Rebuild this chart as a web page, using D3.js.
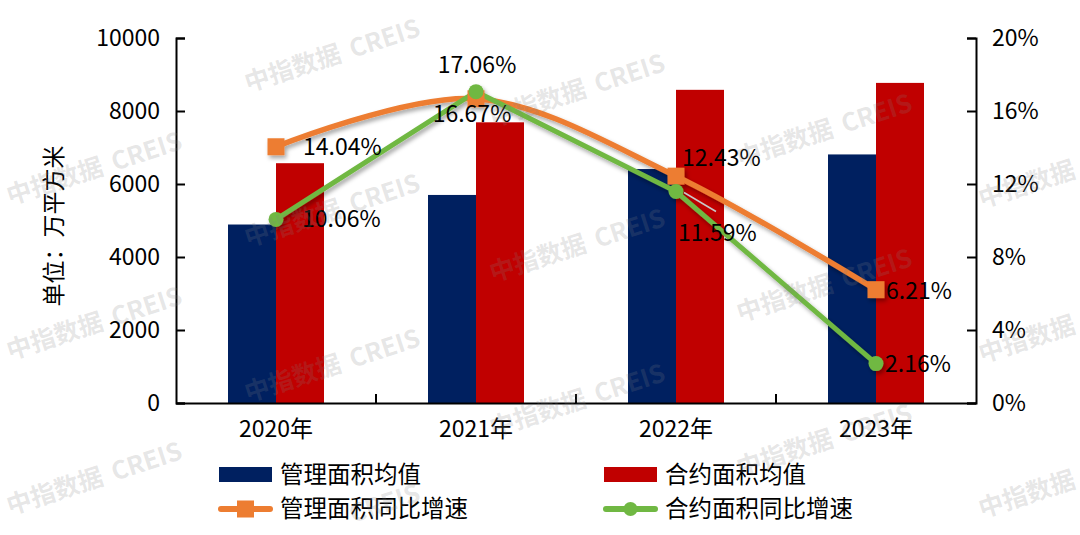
<!DOCTYPE html>
<html><head><meta charset="utf-8">
<script src="https://cdn.jsdelivr.net/npm/d3@7"></script>
<style>
html,body{margin:0;padding:0;background:#fff;}
text{font-family:"Noto Sans CJK SC","Noto Sans",sans-serif;}
</style></head>
<body><svg id="chart" width="1080" height="535"></svg>
<script>
const categories = ["2020年","2021年","2022年","2023年"];
const barSeries = ["管理面积均值","合约面积均值"];
const manageAvg = [4890, 5700, 6410, 6810];
const contractAvg = [6570, 7690, 8580, 8770];
const lineSeries = ["管理面积同比增速","合约面积同比增速"];
const manageGrowth = [14.04, 16.67, 12.43, 6.21];
const contractGrowth = [10.06, 17.06, 11.59, 2.16];
const leftTicks = [0, 2000, 4000, 6000, 8000, 10000];
const rightTicks = [0, 4, 8, 12, 16, 20];
const yTitle = "单位：万平方米";
const watermarkParts = ["中指数据", "CREIS"];

const colors = {manage:"#002060", contract:"#C00000", mLine:"#ED7D31", cLine:"#70B843"};
const svg = d3.select("#chart");
const W = 1080, H = 535;
const L = 176, R = 976, T = 38, B = 403;

svg.append("rect").attr("width",W).attr("height",H).attr("fill","#fff");
const defs = svg.append("defs");
const f = defs.append("filter").attr("id","sh").attr("x","-20%").attr("y","-20%").attr("width","140%").attr("height","160%");
f.append("feDropShadow").attr("dx",2).attr("dy",3).attr("stdDeviation",2).attr("flood-color","#000").attr("flood-opacity",0.35);

const x0 = d3.scaleBand().domain(categories).range([L,R]).paddingInner(0).paddingOuter(0);
const x1 = d3.scaleBand().domain(barSeries).range([x0.bandwidth()*0.26, x0.bandwidth()*0.74]).padding(0);
const yL = d3.scaleLinear().domain([0,10000]).range([B,T]);
const yR = d3.scaleLinear().domain([0,20]).range([B,T]);

// bars
const barData = [manageAvg, contractAvg];
const barColors = [colors.manage, colors.contract];
barSeries.forEach((s,si)=>{
  svg.append("g").selectAll("rect").data(categories).join("rect")
    .attr("x", d=>x0(d)+x1(s))
    .attr("y", (d,i)=>yL(barData[si][i]))
    .attr("width", x1.bandwidth())
    .attr("height", (d,i)=>B-yL(barData[si][i]))
    .attr("fill", barColors[si]);
});

// axes
const axL = svg.append("g").attr("transform",`translate(${L},0)`)
  .call(d3.axisLeft(yL).tickValues(leftTicks).tickSize(-9).tickPadding(16).tickFormat(d3.format("d")));
const axR = svg.append("g").attr("transform",`translate(${R},0)`)
  .call(d3.axisRight(yR).tickValues(rightTicks).tickSize(-9).tickPadding(16).tickFormat(d=>d+"%"));
const axB = svg.append("g").attr("transform",`translate(0,${B})`)
  .call(d3.axisBottom(x0).tickSize(0).tickPadding(22));
[axL,axR,axB].forEach(a=>{
  a.selectAll("path.domain").attr("stroke","#000").attr("stroke-width",2);
  a.selectAll(".tick line").attr("stroke","#000").attr("stroke-width",2);
  a.selectAll("text").attr("font-size",23).attr("fill","#000")
   .attr("font-family",'"Noto Sans CJK SC","Noto Sans",sans-serif');
});
axB.selectAll("text").attr("dy","0.71em").attr("y",18);
// category boundary ticks
const bounds = categories.slice(1).map(c=>x0(c));
svg.append("g").selectAll("line").data(bounds).join("line")
  .attr("x1",d=>d).attr("x2",d=>d).attr("y1",B).attr("y2",B-9)
  .attr("stroke","#000").attr("stroke-width",2);

// y title
svg.append("text").attr("transform","translate(62,226) rotate(-90)")
  .attr("text-anchor","middle").attr("font-size",23).attr("fill","#000").text(yTitle);

// lines
const cx = d=>x0(d)+x0.bandwidth()/2;
const mPts = categories.map((c,i)=>[cx(c), yR(manageGrowth[i])]);
const cPts = categories.map((c,i)=>[cx(c), yR(contractGrowth[i])]);
const gl = svg.append("g").attr("filter","url(#sh)");
gl.append("path").attr("d", d3.line().curve(d3.curveCatmullRom.alpha(0))(mPts))
  .attr("fill","none").attr("stroke",colors.mLine).attr("stroke-width",5.5).attr("stroke-linecap","round");
gl.append("path").attr("d", d3.line()(cPts))
  .attr("fill","none").attr("stroke",colors.cLine).attr("stroke-width",5).attr("stroke-linecap","round");
gl.selectAll("rect.m").data(mPts).join("rect").attr("class","m")
  .attr("x",d=>d[0]-8.5).attr("y",d=>d[1]-8.5).attr("width",17).attr("height",17).attr("fill",colors.mLine);
gl.selectAll("circle.c").data(cPts).join("circle").attr("class","c")
  .attr("cx",d=>d[0]).attr("cy",d=>d[1]).attr("r",7.5).attr("fill",colors.cLine);

// leader line for 11.59%
svg.append("line").attr("x1",cPts[2][0]+40).attr("y1",cPts[2][1]+20).attr("x2",cPts[2][0]+8).attr("y2",cPts[2][1]+1)
  .attr("stroke","#c8c8c8").attr("stroke-width",1.5);

// data labels
const fmt = v=>v.toFixed(2)+"%";
const lblOff = {
  m:[[27,0,"start"],[-4,15,"middle"],[6,-18,"start"],[10,1,"start"]],
  c:[[26,0,"start"],[1,-27,"middle"],[2,41,"start"],[9,0,"start"]]
};
const labelG = svg.append("g");
function addLabels(pts, vals, offs){
  pts.forEach((p,i)=>{
    labelG.append("text").attr("x",p[0]+offs[i][0]).attr("y",p[1]+offs[i][1])
      .attr("dy","0.35em").attr("text-anchor",offs[i][2]).attr("font-size",23).attr("fill","#000")
      .text(fmt(vals[i]));
  });
}
addLabels(mPts, manageGrowth, lblOff.m);
addLabels(cPts, contractGrowth, lblOff.c);

// legend
const lg = svg.append("g");
const legendItems = [
  {x:219, y:475, type:"bar", color:colors.manage, label:barSeries[0]},
  {x:604, y:475, type:"bar", color:colors.contract, label:barSeries[1]},
  {x:219, y:509, type:"sq", color:colors.mLine, label:lineSeries[0]},
  {x:604, y:509, type:"ci", color:colors.cLine, label:lineSeries[1]}
];
legendItems.forEach(it=>{
  const g = lg.append("g").attr("transform",`translate(${it.x},${it.y})`);
  if(it.type==="bar"){
    g.append("rect").attr("x",0).attr("y",-8).attr("width",53).attr("height",15).attr("fill",it.color);
  } else {
    g.append("line").attr("x1",2).attr("x2",51).attr("y1",0).attr("y2",0).attr("stroke",it.color).attr("stroke-width",6).attr("stroke-linecap","round");
    if(it.type==="sq") g.append("rect").attr("x",18).attr("y",-8.5).attr("width",17).attr("height",17).attr("fill",it.color);
    else g.append("circle").attr("cx",26.5).attr("cy",0).attr("r",7).attr("fill",it.color);
  }
  g.append("text").attr("x",61).attr("y",0).attr("dy","0.36em").attr("font-size",23.5).attr("fill","#000").text(it.label);
});

// watermarks (only pieces that fit fully inside the picture)
const wmCols = [10, 248, 493, 740, 982];
const wmStart = [50, 92, 127, 12, 53];
const wm = svg.append("g").attr("pointer-events","none");
const ang = 18*Math.PI/180, ca = Math.cos(ang), sa = Math.sin(ang);
wmCols.forEach((x,ci)=>{
  for(let k=-1;k<5;k++){
    const y = wmStart[ci] + k*155;
    let off = 0;
    watermarkParts.forEach((txt)=>{
      const sx = x + off*ca, sy = y - off*sa;
      const t = wm.append("text").attr("transform",`translate(${sx},${sy}) rotate(-18)`)
        .attr("font-size",25).attr("font-weight","bold").attr("fill","#808080").attr("fill-opacity",0.2)
        .text(txt);
      const w = t.node().getComputedTextLength();
      off += w + 10;
      const bb = t.node().getBoundingClientRect();
      if(bb.left < 0 || bb.right > W || bb.top < 0 || bb.bottom > H) t.remove();
    });
  }
});
</script></body></html>
